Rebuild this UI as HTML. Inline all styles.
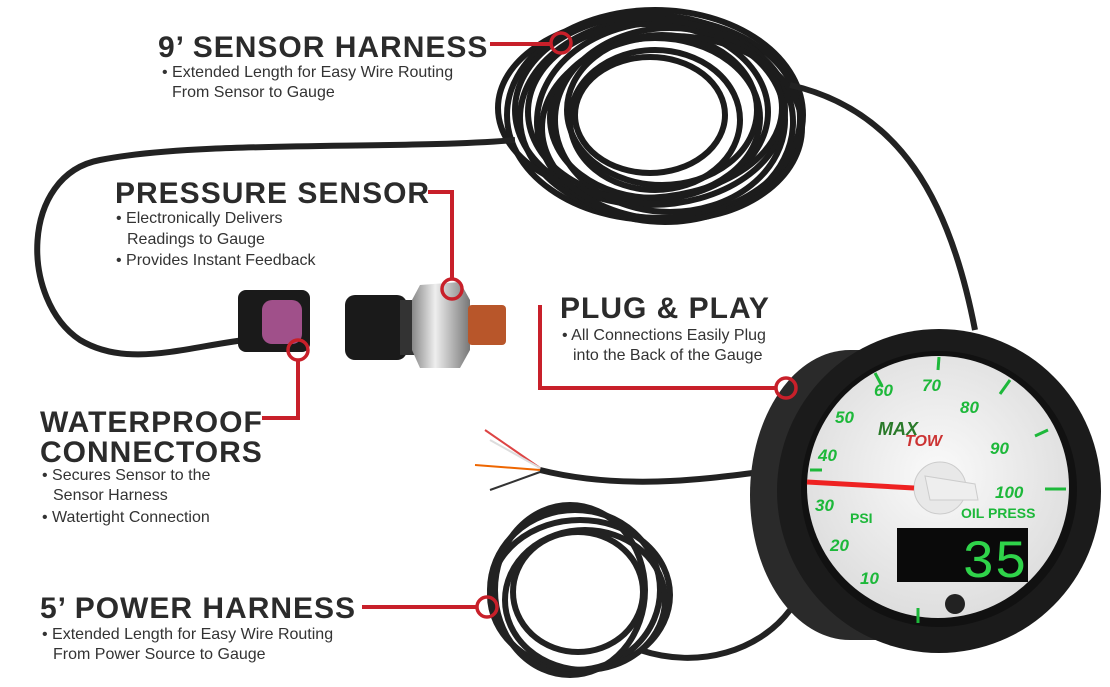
<!DOCTYPE html>
<html><head><meta charset="utf-8"><style>
html,body{margin:0;padding:0;background:#fff;}
body{width:1110px;height:687px;overflow:hidden;position:relative;font-family:"Liberation Sans",sans-serif;}
svg{position:absolute;left:0;top:0;}
.h{font-family:"Liberation Sans",sans-serif;font-weight:bold;font-size:30px;fill:#2b2b2b;letter-spacing:1px;}
.b{font-family:"Liberation Sans",sans-serif;font-size:16px;fill:#333;}
.n{font-family:"Liberation Sans",sans-serif;font-weight:bold;font-style:italic;font-size:17px;fill:#1db83a;}
</style></head><body>
<svg width="1110" height="687" viewBox="0 0 1110 687">
<defs>
<radialGradient id="face" cx="50%" cy="45%" r="55%"><stop offset="0" stop-color="#fafafa"/><stop offset="1" stop-color="#dedede"/></radialGradient>
<linearGradient id="met" x1="0" x2="1"><stop offset="0" stop-color="#888"/><stop offset=".4" stop-color="#eee"/><stop offset="1" stop-color="#777"/></linearGradient>
</defs>
<!-- top coil -->
<g fill="none" stroke="#1c1c1c" stroke-width="6">
<ellipse cx="655" cy="115" rx="148" ry="105"/>
<ellipse cx="660" cy="118" rx="140" ry="100"/>
<ellipse cx="650" cy="110" rx="135" ry="95"/>
<ellipse cx="665" cy="122" rx="128" ry="100"/>
<ellipse cx="648" cy="112" rx="120" ry="88"/>
<ellipse cx="670" cy="120" rx="115" ry="92"/>
<ellipse cx="655" cy="118" rx="105" ry="80"/>
<ellipse cx="662" cy="110" rx="95" ry="75"/>
<ellipse cx="655" cy="120" rx="85" ry="70"/>
<ellipse cx="650" cy="115" rx="75" ry="58"/>
<ellipse cx="640" cy="108" rx="142" ry="90"/>
<ellipse cx="672" cy="128" rx="130" ry="92"/>
</g>
<g fill="none" stroke="#222" stroke-width="6">
<path d="M790 85 C900 110 950 200 975 330"/>
<path d="M515 140 C400 150 200 140 100 160 C20 175 20 300 80 340 C130 370 190 345 260 338"/>
<ellipse cx="575" cy="590" rx="85" ry="80"/>
<ellipse cx="580" cy="595" rx="90" ry="75"/>
<ellipse cx="570" cy="590" rx="75" ry="85"/>
<ellipse cx="585" cy="600" rx="80" ry="70"/>
<ellipse cx="578" cy="592" rx="65" ry="60"/>
<path d="M540 470 C620 490 700 480 760 472"/>
<path d="M640 650 C700 670 760 650 790 610"/>
</g>
<g stroke-width="2" fill="none">
<path d="M540 468 L485 430" stroke="#d44"/><path d="M540 468 L490 440" stroke="#ddd"/><path d="M540 470 L475 465" stroke="#e60"/><path d="M540 472 L490 490" stroke="#333"/>
</g>
<!-- connectors -->
<rect x="238" y="290" width="72" height="62" rx="8" fill="#1a1a1a"/>
<rect x="262" y="300" width="40" height="44" rx="10" fill="#a0508a"/>
<rect x="345" y="295" width="62" height="65" rx="10" fill="#1a1a1a"/>
<rect x="400" y="300" width="25" height="55" fill="#333"/>
<polygon points="420,285 460,282 470,300 470,350 460,368 420,368 412,350 412,300" fill="url(#met)"/>
<rect x="468" y="305" width="38" height="40" rx="4" fill="#b8562a"/>
<!-- gauge housing -->
<ellipse cx="850" cy="495" rx="100" ry="145" fill="#2a2a2a"/>
<rect x="850" y="350" width="60" height="290" fill="#2a2a2a"/>
<circle cx="939" cy="491" r="162" fill="#1b1b1b"/>
<circle cx="939" cy="489" r="138" fill="#111"/>
<circle cx="938" cy="487" r="131" fill="url(#face)"/>
<g stroke="#1db83a" stroke-width="3">
<line x1="939" y1="357" x2="938" y2="370"/><line x1="1010" y1="380" x2="1000" y2="394"/><line x1="1048" y1="430" x2="1035" y2="436"/><line x1="1066" y1="489" x2="1045" y2="489"/><line x1="875" y1="373" x2="882" y2="386"/><line x1="810" y1="470" x2="822" y2="470"/><line x1="918" y1="608" x2="918" y2="623"/>
</g>
<text class="n" x="874" y="396">60</text><text class="n" x="922" y="391">70</text><text class="n" x="960" y="413">80</text><text class="n" x="990" y="454">90</text><text class="n" x="995" y="498">100</text>
<text class="n" x="835" y="423">50</text><text class="n" x="818" y="461">40</text><text class="n" x="815" y="511">30</text><text class="n" x="830" y="551">20</text><text class="n" x="860" y="584">10</text>
<text class="n" x="850" y="523" style="font-size:14px;font-style:normal">PSI</text>
<text class="n" x="961" y="518" style="font-size:14px;font-style:normal">OIL PRESS</text>
<text x="878" y="435" style="font-weight:bold;font-style:italic;font-size:18px;fill:#2a7a2a;font-family:'Liberation Sans',sans-serif">MAX</text><text x="905" y="446" style="font-weight:bold;font-style:italic;font-size:16px;fill:#c33;font-family:'Liberation Sans',sans-serif">TOW</text>
<circle cx="940" cy="488" r="26" fill="#e8e8e8" stroke="#ccc"/>
<polygon points="925,476 975,484 978,500 930,500" fill="#eee" stroke="#ccc"/>
<line x1="807" y1="482" x2="914" y2="488" stroke="#ee2222" stroke-width="5"/>
<rect x="897" y="528" width="131" height="54" fill="#0a0a0a"/>
<text x="962" y="577" style="font-family:'Liberation Mono',monospace;font-size:54px;fill:#2fd44a">35</text>
<circle cx="955" cy="604" r="10" fill="#222"/>
<!-- callout lines -->
<g stroke="#c8202a" stroke-width="4" fill="none">
<path d="M490 44 H550"/><circle cx="561" cy="43" r="10" stroke-width="3.5"/>
<path d="M428 192 H452 V279"/><circle cx="452" cy="289" r="10" stroke-width="3.5"/>
<path d="M540 305 V388 H775"/><circle cx="786" cy="388" r="10" stroke-width="3.5"/>
<path d="M262 418 H298 V360"/><circle cx="298" cy="350" r="10" stroke-width="3.5"/>
<path d="M362 607 H476"/><circle cx="487" cy="607" r="10" stroke-width="3.5"/>
</g>
<!-- labels -->
<text class="h" x="158" y="57">9’ SENSOR HARNESS</text>
<text class="b" x="162" y="77">• Extended Length for Easy Wire Routing</text>
<text class="b" x="172" y="97">From Sensor to Gauge</text>
<text class="h" x="115" y="203">PRESSURE SENSOR</text>
<text class="b" x="116" y="223">• Electronically Delivers</text>
<text class="b" x="127" y="244">Readings to Gauge</text>
<text class="b" x="116" y="265">• Provides Instant Feedback</text>
<text class="h" x="560" y="318">PLUG &amp; PLAY</text>
<text class="b" x="562" y="340">• All Connections Easily Plug</text>
<text class="b" x="573" y="360">into the Back of the Gauge</text>
<text class="h" x="40" y="432">WATERPROOF</text>
<text class="h" x="40" y="462">CONNECTORS</text>
<text class="b" x="42" y="480">• Secures Sensor to the</text>
<text class="b" x="53" y="500">Sensor Harness</text>
<text class="b" x="42" y="522">• Watertight Connection</text>
<text class="h" x="40" y="618">5’ POWER HARNESS</text>
<text class="b" x="42" y="639">• Extended Length for Easy Wire Routing</text>
<text class="b" x="53" y="659">From Power Source to Gauge</text>
</svg>
</body></html>
